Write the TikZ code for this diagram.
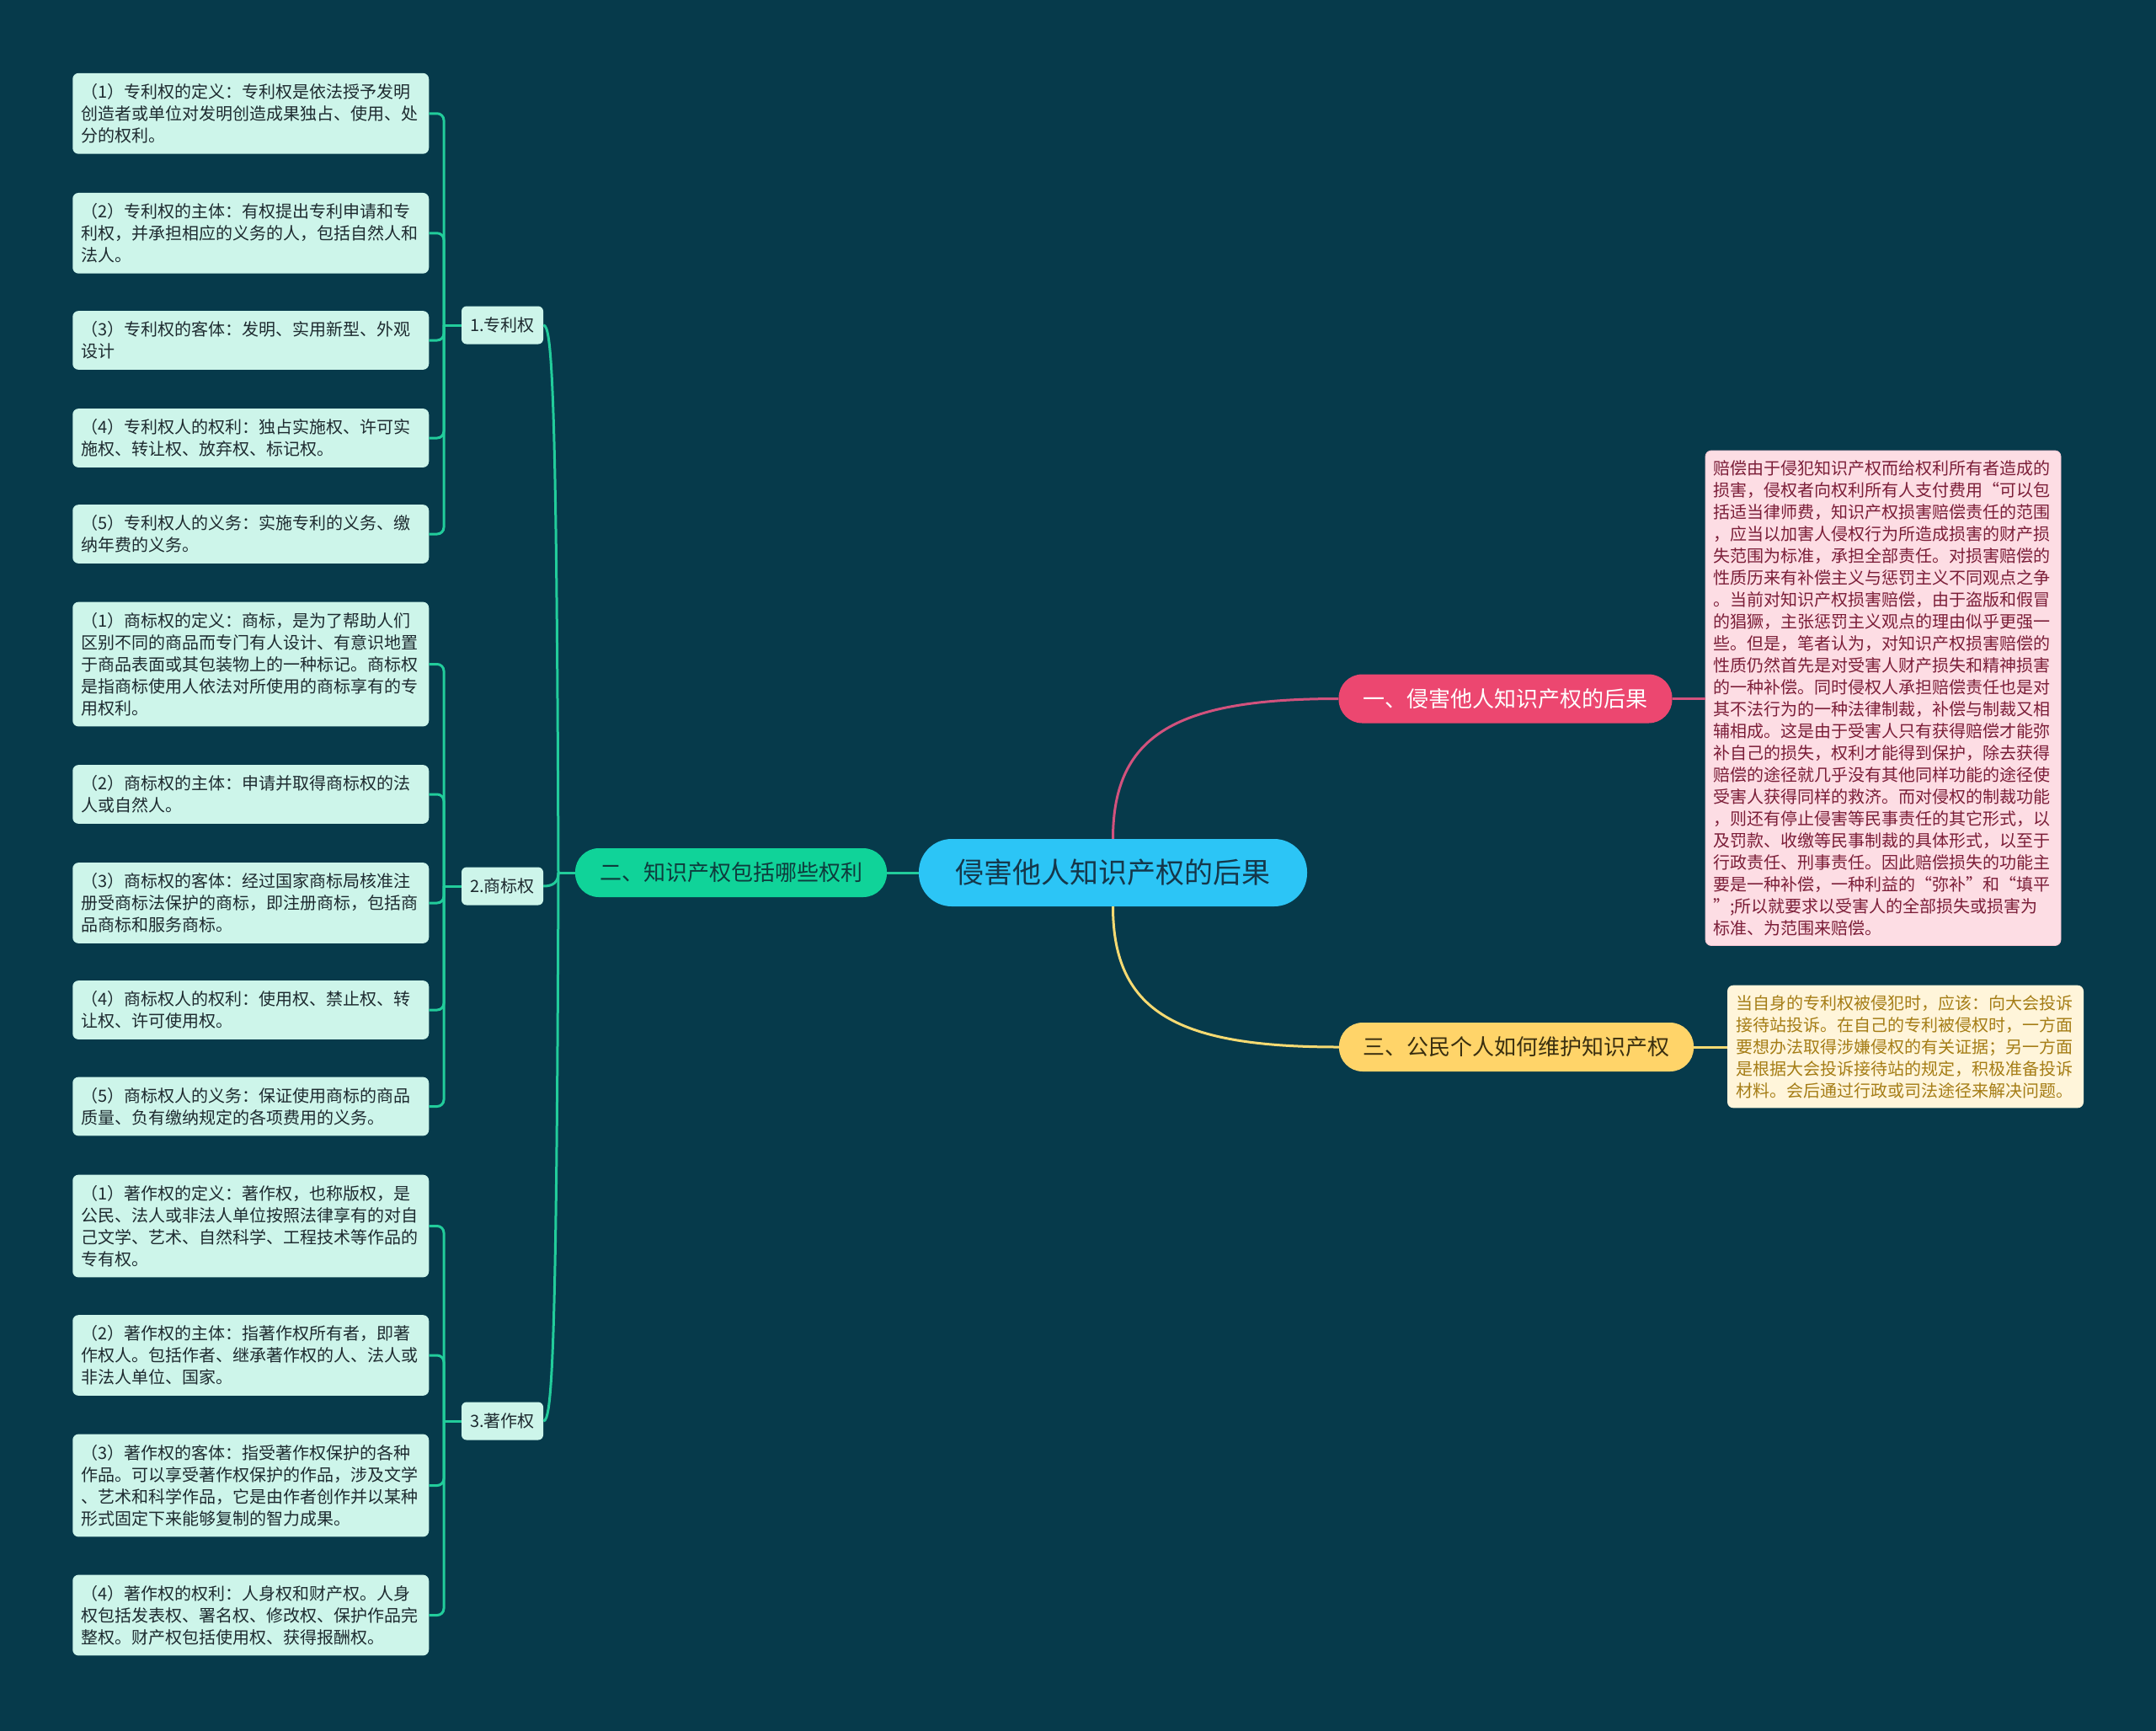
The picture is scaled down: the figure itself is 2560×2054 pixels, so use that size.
\documentclass[tikz,border=0pt]{standalone}
\usepackage{fontspec}
\setmainfont{Noto Sans CJK SC}
\definecolor{bgcol}{HTML}{063A4B}
\definecolor{gline}{HTML}{22CC9B}
\definecolor{leaffill}{HTML}{CDF5EA}
\definecolor{leaftext}{HTML}{1E2B30}
\definecolor{greenfill}{HTML}{10D399}
\definecolor{greentext}{HTML}{0E3B3C}
\definecolor{bluefill}{HTML}{2CC5F6}
\definecolor{bluetext}{HTML}{15374A}
\definecolor{pinkfill}{HTML}{EC4770}
\definecolor{pinkline}{HTML}{D2527D}
\definecolor{pinkbox}{HTML}{FDDDE4}
\definecolor{pinktext}{HTML}{7B1E38}
\definecolor{yelfill}{HTML}{FFD469}
\definecolor{yelline}{HTML}{F6DA72}
\definecolor{yelbox}{HTML}{FFF5DA}
\definecolor{yeltext}{HTML}{A57D16}
\definecolor{yelntext}{HTML}{3A2F10}
\begin{document}
\begin{tikzpicture}[x=1pt,y=-1pt,
  leaf/.style={fill=leaffill, rounded corners=7pt, text width=402pt, align=left,
    inner xsep=10.5pt, inner ysep=12.5pt, text=leaftext,
    font=\fontsize{20pt}{26pt}\selectfont},
  midnode/.style={fill=leaffill, rounded corners=6pt, minimum width=97pt,
    minimum height=45pt, inner sep=2pt, text=leaftext,
    font=\fontsize{20pt}{24pt}\selectfont},
  lvlnode/.style={rounded corners=28pt, minimum height=58pt, inner sep=2pt,
    font=\fontsize{26pt}{30pt}\selectfont},
  gl/.style={draw=gline, line width=3pt},
  pl/.style={draw=pinkline, line width=3pt},
  yl/.style={draw=yelline, line width=3pt},
  infobox/.style={rounded corners=7pt, align=left, inner ysep=11.5pt,
    font=\fontsize{20pt}{26pt}\selectfont}
]
\useasboundingbox (0,0) rectangle (2560,2054);
\fill[bgcol] (-10,-10) rectangle (2570,2064);

% center
\node[fill=bluefill, text=bluetext, rounded corners=39pt, minimum width=461pt,
  minimum height=80pt, inner sep=2pt, font=\fontsize{34pt}{40pt}\selectfont]
  (c) at (1321.5,1036) {侵害他人知识产权的后果};

% level 1
\node[lvlnode, fill=greenfill, text=greentext, minimum width=370pt] (b2) at (868,1036) {二、知识产权包括哪些权利};
\node[lvlnode, fill=pinkfill, text=white, minimum width=396pt] (r1) at (1787.5,829.5) {一、侵害他人知识产权的后果};
\node[lvlnode, fill=yelfill, text=yelntext, minimum width=421pt] (r3) at (1800.5,1243) {三、公民个人如何维护知识产权};

% right info boxes
\node[infobox, fill=pinkbox, draw=pinkbox!85!pinkfill, line width=0.8pt, text=pinktext, text width=404pt, inner xsep=9pt] (rb1) at (2236,828.75) {赔偿由于侵犯知识产权而给权利所有者造成的\\
损害，侵权者向权利所有人支付费用“可以包\\
括适当律师费，知识产权损害赔偿责任的范围\\
，应当以加害人侵权行为所造成损害的财产损\\
失范围为标准，承担全部责任。对损害赔偿的\\
性质历来有补偿主义与惩罚主义不同观点之争\\
。当前对知识产权损害赔偿，由于盗版和假冒\\
的猖獗，主张惩罚主义观点的理由似乎更强一\\
些。但是，笔者认为，对知识产权损害赔偿的\\
性质仍然首先是对受害人财产损失和精神损害\\
的一种补偿。同时侵权人承担赔偿责任也是对\\
其不法行为的一种法律制裁，补偿与制裁又相\\
辅相成。这是由于受害人只有获得赔偿才能弥\\
补自己的损失，权利才能得到保护，除去获得\\
赔偿的途径就几乎没有其他同样功能的途径使\\
受害人获得同样的救济。而对侵权的制裁功能\\
，则还有停止侵害等民事责任的其它形式，以\\
及罚款、收缴等民事制裁的具体形式，以至于\\
行政责任、刑事责任。因此赔偿损失的功能主\\
要是一种补偿，一种利益的“弥补”和“填平\\
”;所以就要求以受害人的全部损失或损害为\\
标准、为范围来赔偿。};
\node[infobox, fill=yelbox, text=yeltext, text width=403pt, inner xsep=10pt] (rb3) at (2262.5,1242.5) {当自身的专利权被侵犯时，应该：向大会投诉\\
接待站投诉。在自己的专利被侵权时，一方面\\
要想办法取得涉嫌侵权的有关证据；另一方面\\
是根据大会投诉接待站的规定，积极准备投诉\\
材料。会后通过行政或司法途径来解决问题。};

% mid nodes
\node[midnode] (m1) at (596.5,386) {1.专利权};
\node[midnode] (m2) at (596.5,1052) {2.商标权};
\node[midnode] (m3) at (596.5,1687) {3.著作权};

% leaves 专利权
\node[leaf] (p1) at (297.75,134.75) {（1）专利权的定义：专利权是依法授予发明\\创造者或单位对发明创造成果独占、使用、处\\分的权利。};
\node[leaf] (p2) at (297.75,276.8) {（2）专利权的主体：有权提出专利申请和专\\利权，并承担相应的义务的人，包括自然人和\\法人。};
\node[leaf] (p3) at (297.75,404) {（3）专利权的客体：发明、实用新型、外观\\设计};
\node[leaf] (p4) at (297.75,520) {（4）专利权人的权利：独占实施权、许可实\\施权、转让权、放弃权、标记权。};
\node[leaf] (p5) at (297.75,634) {（5）专利权人的义务：实施专利的义务、缴\\纳年费的义务。};

% leaves 商标权
\node[leaf] (t1) at (297.75,788.5) {（1）商标权的定义：商标，是为了帮助人们\\区别不同的商品而专门有人设计、有意识地置\\于商品表面或其包装物上的一种标记。商标权\\是指商标使用人依法对所使用的商标享有的专\\用权利。};
\node[leaf] (t2) at (297.75,943) {（2）商标权的主体：申请并取得商标权的法\\人或自然人。};
\node[leaf] (t3) at (297.75,1072) {（3）商标权的客体：经过国家商标局核准注\\册受商标法保护的商标，即注册商标，包括商\\品商标和服务商标。};
\node[leaf] (t4) at (297.75,1199) {（4）商标权人的权利：使用权、禁止权、转\\让权、许可使用权。};
\node[leaf] (t5) at (297.75,1313.5) {（5）商标权人的义务：保证使用商标的商品\\质量、负有缴纳规定的各项费用的义务。};

% leaves 著作权
\node[leaf] (w1) at (297.75,1455.5) {（1）著作权的定义：著作权，也称版权，是\\公民、法人或非法人单位按照法律享有的对自\\己文学、艺术、自然科学、工程技术等作品的\\专有权。};
\node[leaf] (w2) at (297.75,1609) {（2）著作权的主体：指著作权所有者，即著\\作权人。包括作者、继承著作权的人、法人或\\非法人单位、国家。};
\node[leaf] (w3) at (297.75,1763.5) {（3）著作权的客体：指受著作权保护的各种\\作品。可以享受著作权保护的作品，涉及文学\\、艺术和科学作品，它是由作者创作并以某种\\形式固定下来能够复制的智力成果。};
\node[leaf] (w4) at (297.75,1917.5) {（4）著作权的权利：人身权和财产权。人身\\权包括发表权、署名权、修改权、保护作品完\\整权。财产权包括使用权、获得报酬权。};

% connectors: center
\draw[gl] (c.west) -- (b2.east);
\draw[pl] (c.north) .. controls (1321.5,870) and (1400,829.5) .. (r1.west);
\draw[yl] (c.south) .. controls (1321.5,1203) and (1400,1243) .. (r3.west);
\draw[pl] (r1.east) -- (rb1.west |- r1.east);
\draw[yl] (r3.east) -- (rb3.west |- r3.east);

% connectors: level 2
\coordinate (J) at (663,1036);
\draw[gl] (b2.west) -- (J);
\draw[gl] (J) .. controls (661,450) and (655,386) .. (m1.east);
\draw[gl] (J) .. controls (663,1048) and (656,1052) .. (m2.east);
\draw[gl] (J) .. controls (661,1620) and (655,1687) .. (m3.east);

% connectors: leaves
\coordinate (k1) at (527,386);
\coordinate (k2) at (527,1052);
\coordinate (k3) at (527,1687);
\draw[gl] (m1.west) -- (k1);
\draw[gl] (m2.west) -- (k2);
\draw[gl] (m3.west) -- (k3);
\foreach \n in {p1,p2,p3,p4,p5} \draw[gl, rounded corners=8pt] (k1) |- (\n.east);
\foreach \n in {t1,t2,t3,t4,t5} \draw[gl, rounded corners=8pt] (k2) |- (\n.east);
\foreach \n in {w1,w2,w3,w4} \draw[gl, rounded corners=8pt] (k3) |- (\n.east);
\end{tikzpicture}
\end{document}
